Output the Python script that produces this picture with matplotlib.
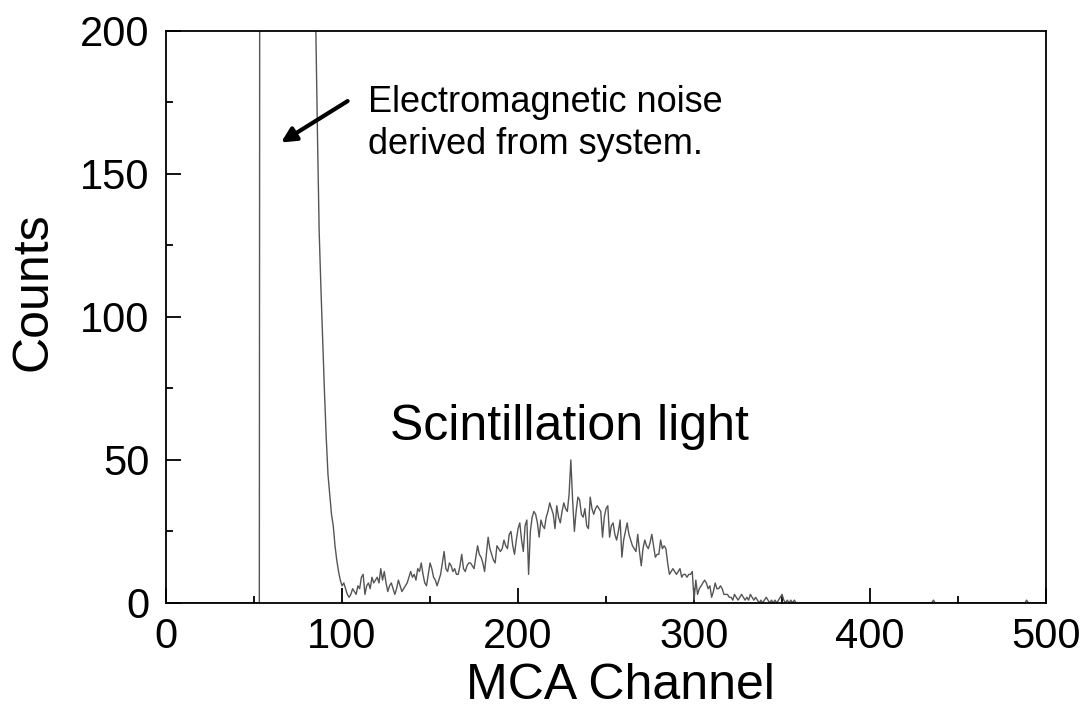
import numpy as np
import matplotlib
matplotlib.use("Agg")
import matplotlib.pyplot as plt

plt.rcParams['font.family'] = ['Liberation Sans', 'DejaVu Sans']

# --- data ---
n_channels = 501
noise_channels = (54, 83)      # system noise, off the top of the scale
noise_level = 1000
peak_start = 84                # first channel of the decaying edge + scintillation peak
peak_counts = [
    420, 205, 165, 130, 110, 92, 74, 58, 45, 38, 31, 27, 20, 15, 11, 8,          # 84-99
    6, 7, 5, 3, 2, 3, 5, 4, 3, 6, 5, 9, 10, 3, 6, 7, 5, 9, 7, 8,                 # 100-119
    9, 7, 12, 8, 11, 7, 4, 6, 7, 5, 3, 5, 8, 6, 4, 5, 6, 7, 9, 11,               # 120-139
    9, 10, 8, 12, 11, 14, 10, 7, 6, 10, 14, 12, 9, 8, 6, 8, 10, 14, 18, 12,      # 140-159
    11, 14, 13, 11, 12, 10, 10, 13, 17, 12, 11, 13, 14, 14, 13, 12, 16, 20, 17, 16,  # 160-179
    14, 11, 17, 23, 19, 17, 15, 14, 20, 19, 18, 19, 22, 20, 19, 24, 25, 20, 17, 22,  # 180-199
    26, 28, 22, 18, 27, 29, 10, 25, 30, 32, 31, 28, 23, 29, 27, 26, 30, 32, 35, 33,  # 200-219
    31, 26, 34, 30, 28, 32, 35, 33, 32, 38, 50, 36, 25, 32, 37, 36, 31, 30, 33, 27,  # 220-239
    26, 37, 33, 31, 33, 34, 33, 32, 23, 30, 33, 34, 23, 27, 28, 24, 22, 25, 29, 16,  # 240-259
    22, 25, 28, 24, 22, 20, 19, 18, 24, 18, 13, 19, 22, 20, 19, 21, 24, 20, 16, 17,  # 260-279
    17, 22, 19, 20, 19, 14, 10, 11, 12, 11, 10, 11, 12, 9, 10, 10, 9, 10, 10, 11,    # 280-299
    1, 8, 3, 5, 6, 7, 8, 7, 5, 6, 2, 4, 7, 5, 5, 6, 5, 3, 3, 3,                  # 300-319
    2, 2, 1, 3, 2, 1, 2, 3, 2, 1, 2, 1, 3, 2, 1, 2, 1, 0, 1, 0,                  # 320-339
    1, 2, 1, 0, 1, 0, 1, 0, 1, 2, 3, 1, 0, 1, 0, 1, 0, 1, 0,                     # 340-358
]
stray_channels = [436, 489]
stray_counts = [1, 1]

channels = np.arange(n_channels)
counts = np.zeros(n_channels)
counts[noise_channels[0]:noise_channels[1] + 1] = noise_level
counts[peak_start:peak_start + len(peak_counts)] = peak_counts
counts[stray_channels] = stray_counts

fig = plt.figure(figsize=(10.86, 7.14), dpi=100)
ax = fig.add_axes([0.1529, 0.1555, 0.8103, 0.8011])

ax.plot(channels, counts, color='#555555', lw=1.0)

ax.set_xlim(0, 500)
ax.set_ylim(0, 200)
ax.set_xticks(np.arange(0, 501, 100))
ax.set_xticks(np.arange(50, 500, 100), minor=True)
ax.set_yticks(np.arange(0, 201, 50))
ax.set_yticks(np.arange(25, 200, 50), minor=True)
ax.tick_params(which='both', direction='in', top=False, right=False, width=1.3)
ax.tick_params(which='major', length=11, labelsize=30)
ax.tick_params(axis='y', which='major', pad=12)
ax.tick_params(axis='x', which='major', pad=10)
ax.tick_params(which='minor', length=5)
for sp in ax.spines.values():
    sp.set_linewidth(1.3)

ax.set_xlabel("MCA Channel", fontsize=36)
ax.set_ylabel("Counts", fontsize=36)
ax.xaxis.set_label_coords(0.516, -0.105)
ax.yaxis.set_label_coords(-0.125, 0.545)

ax.annotate("", xy=(64, 160.5), xytext=(104.5, 176),
            arrowprops=dict(arrowstyle='-|>', color='black', lw=3, mutation_scale=22))
ax.text(115, 171.7, "Electromagnetic noise", fontsize=26, va='baseline')
ax.text(115, 157, "derived from system.", fontsize=26, va='baseline')
ax.text(127, 57, "Scintillation light", fontsize=36, va='baseline')

fig.savefig("out.png", dpi=100)
